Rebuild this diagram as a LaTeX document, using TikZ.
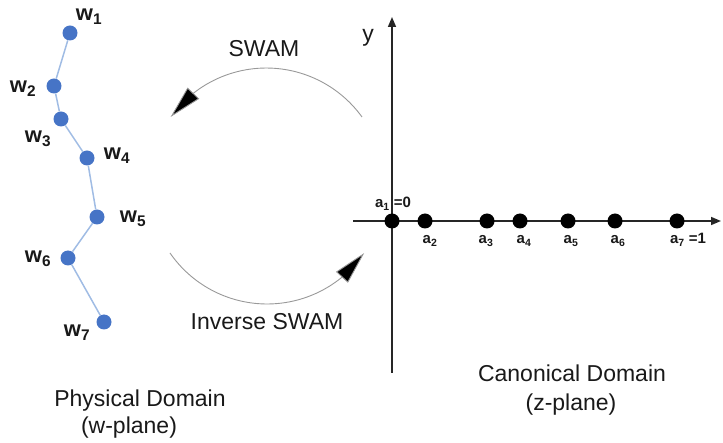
\documentclass[tikz,border=0pt]{standalone}
\usepackage{fontspec}
\setmainfont{Liberation Sans}
\usetikzlibrary{arrows.meta,bending}
\definecolor{wblue}{RGB}{70,116,198}
\definecolor{wline}{RGB}{160,188,228}
\definecolor{txtc}{RGB}{25,25,25}
\begin{document}
\begin{tikzpicture}[x=1pt,y=-1pt,
  wdot/.style={circle,fill=wblue,inner sep=0pt,minimum size=15pt},
  adot/.style={circle,fill=black,inner sep=0pt,minimum size=15pt},
  wlab/.style={anchor=base,inner sep=0pt,text=txtc,font=\bfseries\fontsize{22}{26}\selectfont},
  alab/.style={anchor=base,inner sep=0pt,text=txtc,font=\bfseries\fontsize{15}{18}\selectfont},
  txt/.style={anchor=base,inner sep=0pt,text=txtc,font=\fontsize{23}{28}\selectfont},
  chain/.style={draw=wline,line width=1.5pt},
  axis/.style={draw=black!85,line width=1.6pt,-{Triangle[length=10pt,width=8pt]}},
  arcline/.style={draw=black!40,line width=0.9pt},
  bigtip/.style={-{Triangle[length=33pt,width=16pt,fill=black]}}
]
\useasboundingbox (0,0) rectangle (723,443);

% physical domain polyline
\node[wdot] (w1) at (70,33) {};
\node[wdot] (w2) at (54,86) {};
\node[wdot] (w3) at (61,119) {};
\node[wdot] (w4) at (87,158) {};
\node[wdot] (w5) at (97,217) {};
\node[wdot] (w6) at (68,258) {};
\node[wdot] (w7) at (104,322) {};
\draw[chain] (w1) -- (w2) -- (w3) -- (w4) -- (w5) -- (w6) -- (w7);
\node[wlab] (lw1) at (89,21) {w\textsubscript{1}};
\node[wlab] (lw2) at (23,93) {w\textsubscript{2}};
\node[wlab] (lw3) at (38,143) {w\textsubscript{3}};
\node[wlab] (lw4) at (117,160) {w\textsubscript{4}};
\node[wlab] (lw5) at (133,223) {w\textsubscript{5}};
\node[wlab] (lw6) at (38,263) {w\textsubscript{6}};
\node[wlab] (lw7) at (77,337) {w\textsubscript{7}};

% mapping arcs
\coordinate (u1) at (362,117);
\coordinate (l1) at (170,253);
\draw[arcline,bigtip] (u1) arc[start angle=-35.8, end angle=-144.2, radius=118];
\draw[arcline,bigtip] (l1) arc[start angle=145.4, end angle=34.6, radius=118];
\node[txt] (swam) at (264,57) {SWAM};
\node[txt] (iswam) at (267,330) {Inverse SWAM};

% axes
\coordinate (yb) at (392,373);
\coordinate (yt) at (392,17);
\coordinate (xl) at (353,221);
\coordinate (xr) at (721,221);
\draw[axis] (yb) -- (yt);
\draw[axis] (xl) -- (xr);
\node[txt] (ylab) at (368,42) {y};
\node[txt,font=\fontsize{16}{18}\selectfont] (xlab) at (728,240) {x};

% canonical points
\node[adot] (a1) at (392,221) {};
\node[adot] (a2) at (425,221) {};
\node[adot] (a3) at (487,221) {};
\node[adot] (a4) at (520,221) {};
\node[adot] (a5) at (568,221) {};
\node[adot] (a6) at (615,221) {};
\node[adot] (a7) at (677,221) {};
\node[alab] (la1) at (393,208) {a\textsubscript{1} =0};
\node[alab] (la2) at (430,244) {a\textsubscript{2}};
\node[alab] (la3) at (486,244) {a\textsubscript{3}};
\node[alab] (la4) at (524,244) {a\textsubscript{4}};
\node[alab] (la5) at (571,244) {a\textsubscript{5}};
\node[alab] (la6) at (618,244) {a\textsubscript{6}};
\node[alab] (la7) at (688,244) {a\textsubscript{7} =1};

% captions
\node[txt] (pd1) at (140,407) {Physical Domain};
\node[txt] (pd2) at (129,433) {(w-plane)};
\node[txt] (cd1) at (572,382) {Canonical Domain};
\node[txt] (cd2) at (571,410) {(z-plane)};
\end{tikzpicture}
\end{document}
